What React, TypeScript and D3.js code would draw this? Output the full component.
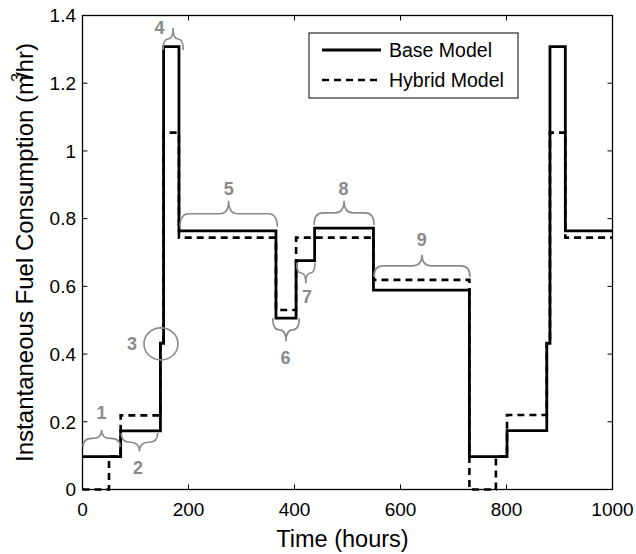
import React from "react";
import * as d3 from "d3";

const W = 636;
const H = 554;

const baseTimes = [0, 72, 147, 153, 182, 365, 403, 438, 549, 730, 801, 876, 882, 911, 1000];
const baseValues = [0.097, 0.173, 0.432, 1.308, 0.764, 0.506, 0.676, 0.772, 0.589, 0.097, 0.174, 0.432, 1.308, 0.764];

const hybridTimes = [0, 50, 72, 147, 153, 182, 365, 403, 549, 730, 780, 801, 876, 882, 911, 1000];
const hybridValues = [0, 0.097, 0.219, 0.432, 1.054, 0.744, 0.53, 0.744, 0.619, 0, 0.097, 0.22, 0.432, 1.054, 0.744];

const xTicks = [0, 200, 400, 600, 800, 1000];
const yTicks = [0, 0.2, 0.4, 0.6, 0.8, 1, 1.2, 1.4];
const yTickLabels = ["0", "0.2", "0.4", "0.6", "0.8", "1", "1.2", "1.4"];

const seriesNames = ["Base Model", "Hybrid Model"];

// Brace annotations (data units)
const braceT1 = [1, 73, 152, 184, 359, 404, 437, 550];
const braceT2 = [71, 142, 190, 367.5, 409, 438.7, 550, 731];
const braceEnd = [0.126, 0.167, 1.298, 0.776, 0.506, 0.67, 0.781, 0.628];
const braceTip = [0.176, 0.112, 1.363, 0.853, 0.437, 0.609, 0.853, 0.693];
const braceLabels = ["1", "2", "4", "5", "6", "7", "8", "9"];
const braceLabelT = [36, 104.7, 145.3, 275.8, 383, 423.6, 492.5, 640];
const braceLabelV = [0.226, 0.066, 1.364, 0.888, 0.391, 0.569, 0.89, 0.737];

const circleT = 148.1;
const circleV = 0.43;
const circleLabel = "3";
const circleLabelT = 93.4;

const M = { left: 82.5, right: 612.5, top: 15.5, bottom: 489.5 };

function toPoints(times: number[], values: number[]): [number, number][] {
  const pts: [number, number][] = [];
  for (let i = 0; i < values.length; i++) pts.push([times[i], values[i]]);
  pts.push([times[times.length - 1], values[values.length - 1]]);
  return pts;
}

function bracePath(x1: number, x2: number, yEnd: number, yTip: number): string {
  const ym = (yEnd + yTip) / 2;
  const xm = (x1 + x2) / 2;
  const q = Math.min(9, (x2 - x1) / 4);
  return [
    `M${x1},${yEnd}`,
    `Q${x1},${ym} ${x1 + q},${ym}`,
    `L${xm - q},${ym}`,
    `Q${xm},${ym} ${xm},${yTip}`,
    `Q${xm},${ym} ${xm + q},${ym}`,
    `L${x2 - q},${ym}`,
    `Q${x2},${ym} ${x2},${yEnd}`,
  ].join(" ");
}

export default function App() {
  const x = d3.scaleLinear().domain([0, 1000]).range([M.left, M.right]);
  const y = d3.scaleLinear().domain([0, 1.4]).range([M.bottom, M.top]);
  const line = d3
    .line<[number, number]>()
    .x((d) => x(d[0]))
    .y((d) => y(d[1]))
    .curve(d3.curveStepAfter);

  const basePath = line(toPoints(baseTimes, baseValues)) || "";
  const hybridPath = line(toPoints(hybridTimes, hybridValues)) || "";
  const font = "'Liberation Sans', Arial, sans-serif";
  const gray = "#8a8a8a";
  const tl = 5;

  const legX = 309, legY = 33, legW = 209, legH = 65;

  return (
    <svg width={W} height={H} style={{ position: "absolute", left: 0, top: 0 }} fontFamily={font}>
      <rect x={0} y={0} width={W} height={H} fill="#fff" />
      {/* data */}
      <path d={hybridPath} fill="none" stroke="#000" strokeWidth={2.6} strokeDasharray="7,5" />
      <path d={basePath} fill="none" stroke="#000" strokeWidth={2.8} />

      {/* axes box */}
      <rect x={M.left} y={M.top} width={M.right - M.left} height={M.bottom - M.top} fill="none" stroke="#000" strokeWidth={1.3} />
      {xTicks.map((t) => (
        <g key={"xt" + t}>
          <line x1={x(t)} x2={x(t)} y1={M.bottom} y2={M.bottom - tl} stroke="#000" strokeWidth={1} />
          <line x1={x(t)} x2={x(t)} y1={M.top} y2={M.top + tl} stroke="#000" strokeWidth={1} />
          <text x={x(t)} y={516} textAnchor="middle" fontSize={19}>{t}</text>
        </g>
      ))}
      {yTicks.map((t, i) => (
        <g key={"yt" + t}>
          <line x1={M.left} x2={M.left + tl} y1={y(t)} y2={y(t)} stroke="#000" strokeWidth={1} />
          <line x1={M.right} x2={M.right - tl} y1={y(t)} y2={y(t)} stroke="#000" strokeWidth={1} />
          <text x={76} y={y(t)} dy="0.36em" textAnchor="end" fontSize={19}>{yTickLabels[i]}</text>
        </g>
      ))}
      <text x={(M.left + M.right) / 2 - 5} y={547} textAnchor="middle" fontSize={23.5}>Time (hours)</text>
      <text transform={`translate(33,${(M.top + M.bottom) / 2}) rotate(-90)`} textAnchor="middle" fontSize={24}>
        Instantaneous Fuel Consumption (m<tspan dx="-7" dy="-10" fontSize={16}>3</tspan><tspan dx="-6" dy="10">/hr)</tspan>
      </text>

      {/* annotations */}
      {braceLabels.map((lab, i) => (
        <g key={"br" + i}>
          <path d={bracePath(x(braceT1[i]), x(braceT2[i]), y(braceEnd[i]), y(braceTip[i]))} fill="none" stroke={gray} strokeWidth={1.6} />
          <text x={x(braceLabelT[i])} y={y(braceLabelV[i])} dy="0.36em" textAnchor="middle" fontSize={18} fontWeight="bold" fill={gray}>{lab}</text>
        </g>
      ))}
      <ellipse cx={x(circleT)} cy={y(circleV)} rx={17} ry={16} fill="none" stroke={gray} strokeWidth={1.6} />
      <text x={x(circleLabelT)} y={y(circleV)} dy="0.36em" textAnchor="middle" fontSize={18} fontWeight="bold" fill={gray}>{circleLabel}</text>

      {/* legend */}
      <rect x={legX} y={legY} width={legW} height={legH} fill="#fff" stroke="#000" strokeWidth={1} />
      <line x1={322} x2={381} y1={50} y2={50} stroke="#000" strokeWidth={2.8} />
      <line x1={322} x2={381} y1={80} y2={80} stroke="#000" strokeWidth={2.6} strokeDasharray="7,5" />
      <text x={389} y={57} fontSize={19.5}>{seriesNames[0]}</text>
      <text x={389} y={87} fontSize={19.5}>{seriesNames[1]}</text>
    </svg>
  );
}
